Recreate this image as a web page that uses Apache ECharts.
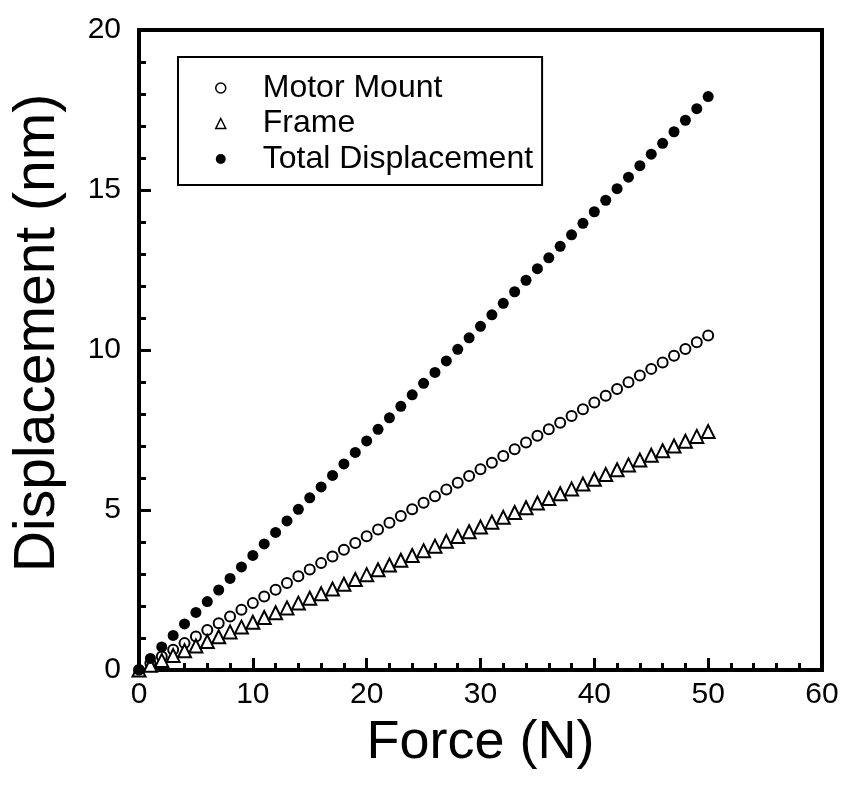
<!DOCTYPE html>
<html>
<head>
<meta charset="utf-8">
<title>Displacement vs Force</title>
<script src="https://cdn.jsdelivr.net/npm/echarts@6/dist/echarts.min.js"></script>
<style>
  html, body { margin: 0; padding: 0; background: #fff; }
  #chart { width: 844px; height: 789px; }
</style>
</head>
<body>
<div id="chart"></div>
<script>
// Applied force (N), one sample per newton
const force = [0,1,2,3,4,5,6,7,8,9,10,11,12,13,14,15,16,17,18,19,20,21,22,23,24,25,26,27,28,29,30,31,32,33,34,35,36,37,38,39,40,41,42,43,44,45,46,47,48,49,50];

// Displacement (nm) of each component
const motorMount = [0,0.21,0.42,0.63,0.84,1.05,1.25,1.46,1.67,1.88,2.09,2.30,2.51,2.72,2.93,3.14,3.34,3.55,3.76,3.97,4.18,4.39,4.60,4.81,5.02,5.23,5.43,5.64,5.85,6.06,6.27,6.48,6.69,6.90,7.11,7.32,7.52,7.73,7.94,8.15,8.36,8.57,8.78,8.99,9.20,9.41,9.61,9.82,10.03,10.24,10.45];
const frame = [0,0.15,0.30,0.45,0.60,0.75,0.89,1.04,1.19,1.34,1.49,1.64,1.79,1.94,2.09,2.24,2.38,2.53,2.68,2.83,2.98,3.13,3.28,3.43,3.58,3.73,3.87,4.02,4.17,4.32,4.47,4.62,4.77,4.92,5.07,5.22,5.36,5.51,5.66,5.81,5.96,6.11,6.26,6.41,6.56,6.71,6.85,7.00,7.15,7.30,7.45];
const totalDisp = [0,0.36,0.72,1.08,1.44,1.80,2.14,2.50,2.86,3.22,3.58,3.94,4.30,4.66,5.02,5.38,5.72,6.08,6.44,6.80,7.16,7.52,7.88,8.24,8.60,8.96,9.30,9.66,10.02,10.38,10.74,11.10,11.46,11.82,12.18,12.54,12.88,13.24,13.60,13.96,14.32,14.68,15.04,15.40,15.76,16.12,16.46,16.82,17.18,17.54,17.92];

const seriesNames = ['Motor Mount', 'Frame', 'Total Displacement'];
const xTitle = 'Force (N)';
const yTitle = 'Displacement (nm)';

const FONT = '"Liberation Sans", Arial, sans-serif';

function pairs(ys) { return force.map((x, i) => [x, ys[i]]); }

const chart = echarts.init(document.getElementById('chart'), null, { renderer: 'canvas' });

const axisCommon = {
  axisLine: { show: true, onZero: false, lineStyle: { color: '#000', width: 4 } },
  axisTick: { show: true, inside: true, length: 12, lineStyle: { color: '#000', width: 3 } },
  minorTick: { show: true, splitNumber: 5, length: 7, lineStyle: { color: '#000', width: 3 } },
  splitLine: { show: false },
  axisLabel: { color: '#000', fontFamily: FONT, fontSize: 30 }
};

const hollow = { color: '#fff', borderColor: '#000', borderWidth: 2, opacity: 1 };

chart.setOption({
  animation: false,
  backgroundColor: '#fff',
  grid: {
    left: 139, right: 22, top: 30, bottom: 119,
    show: true, borderColor: '#000', borderWidth: 4, backgroundColor: 'transparent'
  },
  legend: {
    orient: 'vertical',
    left: 178, top: 57,
    padding: [15, 9, 10, 37],
    borderColor: '#000', borderWidth: 2,
    itemWidth: 10, itemHeight: 10, itemGap: 3.5,
    textStyle: { color: '#000', fontFamily: FONT, fontSize: 32, lineHeight: 32, padding: [0, 0, 0, 32] },
    data: [
      { name: seriesNames[0], icon: 'circle', itemStyle: { color: '#fff', borderColor: '#000', borderWidth: 1.5 } },
      { name: seriesNames[1], icon: 'triangle', itemStyle: { color: '#fff', borderColor: '#000', borderWidth: 1.5 } },
      { name: seriesNames[2], icon: 'circle', itemStyle: { color: '#000' } }
    ]
  },
  xAxis: Object.assign({}, axisCommon, {
    type: 'value', min: 0, max: 60, interval: 10,
    axisLabel: Object.assign({}, axisCommon.axisLabel, { margin: 10 }),
    name: xTitle, nameLocation: 'middle', nameGap: 46,
    nameTextStyle: { color: '#000', fontFamily: FONT, fontSize: 54 }
  }),
  yAxis: Object.assign({}, axisCommon, {
    type: 'value', min: 0, max: 20, interval: 5,
    axisLabel: Object.assign({}, axisCommon.axisLabel, { margin: 18 }),
    name: yTitle, nameLocation: 'middle', nameGap: 72,
    nameTextStyle: { color: '#000', fontFamily: FONT, fontSize: 57, padding: [0, 0, 0, 34] }
  }),
  series: [
    {
      name: seriesNames[0], type: 'scatter', data: pairs(motorMount),
      symbol: 'circle', symbolSize: 10,
      itemStyle: hollow
    },
    {
      name: seriesNames[1], type: 'scatter', data: pairs(frame),
      symbol: 'triangle', symbolSize: 13,
      itemStyle: hollow
    },
    {
      name: seriesNames[2], type: 'scatter', data: pairs(totalDisp),
      symbol: 'circle', symbolSize: 11,
      itemStyle: { color: '#000', opacity: 1 }
    }
  ]
});
</script>
</body>
</html>
